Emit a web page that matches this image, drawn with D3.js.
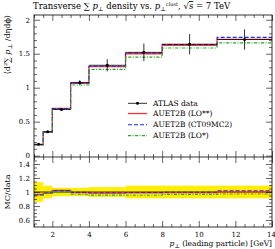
<!DOCTYPE html>
<html>
<head>
<meta charset="utf-8">
<style>
  body { margin: 0; background: #fff; }
  text { font-family: "DejaVu Serif", serif; fill: #000; }
  .domain { display: none; }
  .tick line { stroke: #000; stroke-width: 0.6; }
</style>
</head>
<body>
<svg id="chart" width="275" height="249"></svg>
<script src="https://cdnjs.cloudflare.com/ajax/libs/d3/7.8.5/d3.min.js"></script>
<script>
// bin edges in leading particle pT [GeV]
var edges = [1, 1.5, 2, 3, 4, 6, 8, 11, 14];
var dataVals = [0.167, 0.352, 0.68, 1.075, 1.33, 1.52, 1.64, 1.71];
var dataErr  = [0.012, 0.015, 0.02, 0.035, 0.09, 0.13, 0.15, 0.15];
var bandRel  = [0.14, 0.09, 0.06, 0.06, 0.07, 0.09, 0.09, 0.09];
var mcLO2    = [0.161, 0.348, 0.695, 1.065, 1.31, 1.50, 1.625, 1.71];
var mcCT09   = [0.160, 0.347, 0.693, 1.07, 1.315, 1.51, 1.635, 1.74];
var mcLO1    = [0.160, 0.345, 0.68, 1.04, 1.27, 1.45, 1.585, 1.66];
var xTicks = [2, 4, 6, 8, 10, 12, 14];
var yTicksMain = [0, 0.5, 1, 1.5, 2];
var yTicksRatio = [0.6, 0.8, 1, 1.2, 1.4];
var legendNames = ["ATLAS data", "AUET2B (LO**)", "AUET2B (CT09MC2)", "AUET2B (LO*)"];

var L = 34, R = 272, T = 15, M = 157, B = 227;
var svg = d3.select("#chart");

var x = d3.scaleLinear().domain([1, 14]).range([L, R]);
var y = d3.scaleLinear().domain([-0.02, 2.07]).range([M, T]);
var yr = d3.scaleLinear().domain([0.5, 1.5]).range([B, M]);

var series = [
  { vals: mcLO2, color: "#ff3333", width: 1.3, dash: null },
  { vals: mcCT09, color: "#2222ff", width: 1.1, dash: "4,2" },
  { vals: mcLO1, color: "#22aa22", width: 1.1, dash: "3,1.5,1,1.5" }
];

function stepPoints(vals) {
  var pts = [];
  vals.forEach(function(v, i) {
    pts.push([edges[i], v]);
    pts.push([edges[i + 1], v]);
  });
  return pts;
}

// minor tick values
var xMinor = d3.range(1, 14.01, 0.5).filter(function(v) { return v % 2 !== 0; });
var yMinorMain = d3.range(0, 2.05, 0.1).filter(function(v) { return Math.abs(v * 2 - Math.round(v * 2)) > 0.01; });
var yMinorRatio = d3.range(0.55, 1.5, 0.05).filter(function(v) { return Math.abs(v * 5 - Math.round(v * 5)) > 0.01; });

function ticks(axis, vals, size, tf, labels) {
  var g = svg.append("g").attr("transform", tf)
    .call(axis.tickValues(vals).tickSize(-size).tickPadding(labels ? 4 : 0)
      .tickFormat(labels ? d3.format("") : ""));
  g.selectAll("text").style("font-size", "7px");
  return g;
}

// ----- ratio band -----
svg.append("g").selectAll("rect").data(bandRel).enter().append("rect")
  .attr("x", function(d, i) { return x(edges[i]); })
  .attr("width", function(d, i) { return x(edges[i + 1]) - x(edges[i]); })
  .attr("y", function(d) { return yr(1 + d); })
  .attr("height", function(d) { return yr(1 - d) - yr(1 + d); })
  .attr("fill", "#ffee00");

// data line at 1 in ratio
svg.append("g").selectAll("line").data(dataVals).enter().append("line")
  .attr("x1", function(d, i) { return x(edges[i]); })
  .attr("x2", function(d, i) { return x(edges[i + 1]); })
  .attr("y1", yr(1)).attr("y2", yr(1))
  .attr("stroke", "#000").attr("stroke-width", 0.8);

var lineMain = d3.line().x(function(d) { return x(d[0]); }).y(function(d) { return y(d[1]); });
var lineRatio = d3.line().x(function(d) { return x(d[0]); }).y(function(d) { return yr(d[1]); });

series.forEach(function(s) {
  svg.append("path").attr("d", lineMain(stepPoints(s.vals)))
    .attr("fill", "none").attr("stroke", s.color).attr("stroke-width", s.width)
    .attr("stroke-dasharray", s.dash);
  var ratio = s.vals.map(function(v, i) { return v / dataVals[i]; });
  svg.append("path").attr("d", lineRatio(stepPoints(ratio)))
    .attr("fill", "none").attr("stroke", s.color).attr("stroke-width", s.width)
    .attr("stroke-dasharray", s.dash);
});

// ----- data points -----
var dg = svg.append("g");
dataVals.forEach(function(v, i) {
  var xc = (edges[i] + edges[i + 1]) / 2;
  dg.append("line").attr("x1", x(edges[i])).attr("x2", x(edges[i + 1]))
    .attr("y1", y(v)).attr("y2", y(v)).attr("stroke", "#000").attr("stroke-width", 0.8);
  dg.append("line").attr("x1", x(xc)).attr("x2", x(xc))
    .attr("y1", y(v - dataErr[i])).attr("y2", y(v + dataErr[i]))
    .attr("stroke", "#000").attr("stroke-width", 0.8);
  dg.append("circle").attr("cx", x(xc)).attr("cy", y(v)).attr("r", 1.5).attr("fill", "#000");
});

// ----- frames & ticks -----
svg.append("rect").attr("x", L).attr("y", T).attr("width", R - L).attr("height", B - T)
  .attr("fill", "none").attr("stroke", "#000").attr("stroke-width", 0.8);
svg.append("line").attr("x1", L).attr("x2", R).attr("y1", M).attr("y2", M)
  .attr("stroke", "#000").attr("stroke-width", 0.8);

ticks(d3.axisLeft(y), yTicksMain, 6, "translate(" + L + ",0)", true);
ticks(d3.axisLeft(y), yMinorMain, 3, "translate(" + L + ",0)", false);
ticks(d3.axisRight(y), yTicksMain, 6, "translate(" + R + ",0)", false);
ticks(d3.axisRight(y), yMinorMain, 3, "translate(" + R + ",0)", false);
ticks(d3.axisLeft(yr), yTicksRatio, 6, "translate(" + L + ",0)", true);
ticks(d3.axisLeft(yr), yMinorRatio, 3, "translate(" + L + ",0)", false);
ticks(d3.axisRight(yr), yTicksRatio, 6, "translate(" + R + ",0)", false);
ticks(d3.axisRight(yr), yMinorRatio, 3, "translate(" + R + ",0)", false);

[T, M].forEach(function(yy) {
  ticks(d3.axisTop(x), xTicks, 6, "translate(0," + yy + ")", false);
  ticks(d3.axisTop(x), xMinor, 3, "translate(0," + yy + ")", false);
});
[M, B].forEach(function(yy) {
  var lab = yy === B;
  var g = ticks(d3.axisBottom(x), xTicks, 6, "translate(0," + yy + ")", lab);
  g.selectAll("text").attr("dy", "0.9em");
  g.selectAll("text").filter(function(d) { return d === 14; }).attr("text-anchor", "end").attr("dx", "3.5");
  ticks(d3.axisBottom(x), xMinor, 3, "translate(0," + yy + ")", false);
});

// ----- texts -----
var title = svg.append("text").attr("x", 33).attr("y", 9).style("font-size", "8.5px");
title.append("tspan").text("Transverse \u2211 ");
title.append("tspan").attr("font-style", "italic").text("p");
title.append("tspan").attr("font-size", "6px").attr("dy", 1.5).text("\u22a5");
title.append("tspan").attr("dy", -1.5).text(" density vs. ");
title.append("tspan").attr("font-style", "italic").text("p");
title.append("tspan").attr("font-size", "6px").attr("dy", 1.5).text("\u22a5");
title.append("tspan").attr("font-size", "5px").attr("dy", -5).text("clust");
title.append("tspan").attr("dy", 3.5).text(", \u221a");
title.append("tspan").attr("font-style", "italic").attr("text-decoration", "overline").text("s");
title.append("tspan").text(" = 7 TeV");

var yl = svg.append("text").attr("transform", "translate(10," + T + ") rotate(-90)")
  .attr("text-anchor", "end").style("font-size", "8px");
yl.append("tspan").text("\u27e8d\u00b2\u2211 ");
yl.append("tspan").attr("font-style", "italic").text("p");
yl.append("tspan").attr("font-size", "6px").attr("dy", 1.5).text("\u22a5");
yl.append("tspan").attr("dy", -1.5).text(" /d\u03b7d\u03d5\u27e9");

svg.append("text").attr("transform", "translate(10," + yr(1) + ") rotate(-90)")
  .attr("text-anchor", "middle").style("font-size", "8px").text("MC/data");

var xl = svg.append("text").attr("x", R).attr("y", 246).attr("text-anchor", "end")
  .style("font-size", "7.5px");
xl.append("tspan").attr("font-style", "italic").text("p");
xl.append("tspan").attr("font-size", "6px").attr("dy", 1.5).text("\u22a5");
xl.append("tspan").attr("dy", -1.5).text(" (leading particle) [GeV]");

// ----- legend -----
var legY = [y(0.77), y(0.62), y(0.455), y(0.295)];
var lg = svg.append("g");
legendNames.forEach(function(name, i) {
  var yy = legY[i];
  if (i === 0) {
    lg.append("line").attr("x1", 128).attr("x2", 147).attr("y1", yy).attr("y2", yy)
      .attr("stroke", "#000").attr("stroke-width", 0.8);
    lg.append("circle").attr("cx", 137.5).attr("cy", yy).attr("r", 1.5).attr("fill", "#000");
  } else {
    var s = series[i - 1];
    lg.append("line").attr("x1", 128).attr("x2", 147).attr("y1", yy).attr("y2", yy)
      .attr("stroke", s.color).attr("stroke-width", s.width).attr("stroke-dasharray", s.dash);
  }
  lg.append("text").attr("x", 153).attr("y", yy).attr("dy", "0.33em")
    .style("font-size", "7.5px").text(name);
});
</script>
</body>
</html>
